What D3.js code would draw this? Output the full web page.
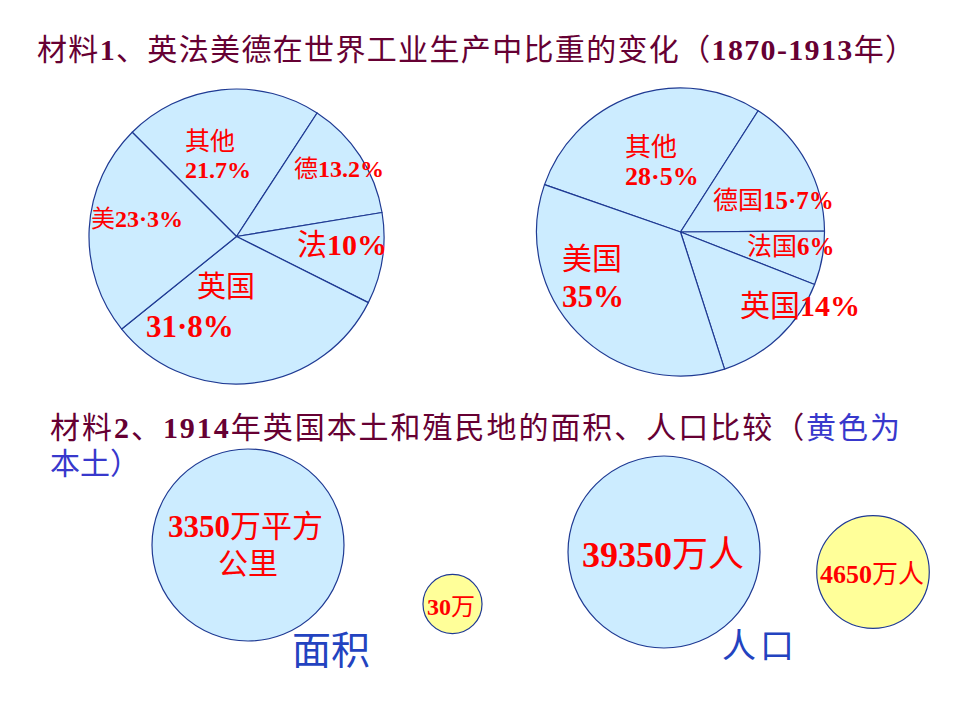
<!DOCTYPE html>
<html><head><meta charset="utf-8">
<script src="https://cdn.jsdelivr.net/npm/d3@7"></script>
<style>html,body{margin:0;padding:0;background:#fff;} svg{display:block}</style>
</head><body>
<svg id="c" width="960" height="720"></svg>
<script>
// ---------- data ----------
const title1 = "材料1、英法美德在世界工业生产中比重的变化（1870-1913年）";
const pie1870Names = ["其他", "德", "法", "英国", "美"];
const pie1870Values = [21.7, 13.2, 10, 31.8, 23.3];
const pie1870Pct = ["21.7%", "13.2%", "10%", "31·8%", "23·3%"];
const pie1913Names = ["其他", "德国", "法国", "英国", "美国"];
const pie1913Values = [28.5, 15.7, 6, 14, 35];
const pie1913Pct = ["28·5%", "15·7%", "6%", "14%", "35%"];
const title2a = "材料2、1914年英国本土和殖民地的面积、人口比较（";
const title2b = "黄色为";
const title2c = "本土）";
const panelNames = ["面积", "人口"];
const groupNames = ["殖民地", "本土"];
const areaValues = [3350, 30];
const areaText = [["3350万平方", "公里"], ["30万"]];
const popValues = [39350, 4650];
const popText = [["39350万人"], ["4650万人"]];

// ---------- styles ----------
const LAT = "'Liberation Serif','Times New Roman',serif";
const CJK = "'Noto Sans CJK SC','Noto Sans SC',sans-serif";
const RED = "#FF0000", MAROON = "#660033", BLUE = "#3838CC", NAVY = "#1F3A93";
const PIE_FILL = "#CCECFF", YELLOW = "#FFFF99";

const svg = d3.select("#c");

function addRuns(t, str, color) {
  str.match(/[0-9.%·\-]+|[^0-9.%·\-]+/g).forEach(p => {
    const num = /^[0-9.%·\-]+$/.test(p);
    t.append("tspan").text(p).attr("fill", color)
      .attr("font-family", num ? LAT : CJK)
      .attr("font-weight", num ? "bold" : "normal");
  });
  return t;
}
function label(x, y, size, str, color, anchor) {
  const t = svg.append("text").attr("x", x).attr("y", y)
    .attr("font-size", size).attr("text-anchor", anchor || "start");
  return addRuns(t, str, color);
}
function fitWidth(t, w) {
  const n = t.text().length;
  const cur = t.node().getComputedTextLength();
  t.attr("letter-spacing", (w - cur) / Math.max(1, n - 1));
}

// ---------- titles ----------
fitWidth(label(37, 60, 30, title1, MAROON), 878);
const t2 = label(50, 438, 30, title2a, MAROON);
addRuns(t2, title2b, BLUE);
fitWidth(t2, 850);
label(50, 474, 30, title2c, BLUE);

// ---------- pies ----------
function drawPie(cx, cy, r, values, startDeg) {
  const s = startDeg * Math.PI / 180;
  const arcs = d3.pie().sort(null).value(d => d)
    .startAngle(s).endAngle(s + 2 * Math.PI)(values);
  const arc = d3.arc().innerRadius(0).outerRadius(r);
  svg.append("g").attr("transform", `translate(${cx},${cy})`)
    .selectAll("path").data(arcs).join("path")
    .attr("d", arc).attr("fill", PIE_FILL)
    .attr("stroke", NAVY).attr("stroke-width", 1.2)
    .attr("stroke-linejoin", "round");
}
drawPie(236.5, 236.5, 147.5, pie1870Values, -45);
drawPie(680.5, 232, 144, pie1913Values, -70.8);

// label layout (position only)
const layout1870 = [
  { name: [185, 149.5, 25], pct: [185, 178, 24] },
  { inline: [294, 177, 24] },
  { inline: [297, 255, 30] },
  { name: [197, 297, 29], pct: [146, 337, 31] },
  { inline: [91, 227, 24] }
];
const layout1913 = [
  { name: [625, 155.7, 26], pct: [625, 185, 26] },
  { inline: [713, 209.3, 25] },
  { inline: [747, 255, 25] },
  { inline: [740, 316, 30] },
  { name: [562, 268.7, 30], pct: [562, 307.3, 31] }
];
function pieLabels(names, pcts, layout) {
  names.forEach((n, i) => {
    const L = layout[i];
    if (L.inline) label(L.inline[0], L.inline[1], L.inline[2], n + pcts[i], RED);
    else {
      label(L.name[0], L.name[1], L.name[2], n, RED);
      label(L.pct[0], L.pct[1], L.pct[2], pcts[i], RED);
    }
  });
}
pieLabels(pie1870Names, pie1870Pct, layout1870);
pieLabels(pie1913Names, pie1913Pct, layout1913);

// ---------- bubbles ----------
const rArea = d3.scalePow().exponent(0.25).domain([0, d3.max(areaValues)]).range([0, 96]);
const rPop = d3.scalePow().exponent(0.25).domain([0, d3.max(popValues)]).range([0, 96]);
const fills = [PIE_FILL, YELLOW];

const areaPos = [[248, 545], [452.5, 604]];
const areaTextLayout = [[[245.5, 537, 31], [248, 574, 30]], [[451, 615, 24]]];
const popPos = [[664, 552], [873, 572]];
const popTextLayout = [[[663, 567, 36]], [[872, 583, 26]]];

function bubbles(values, scale, pos, texts, tl) {
  svg.append("g").selectAll("circle").data(values).join("circle")
    .attr("cx", (d, i) => pos[i][0]).attr("cy", (d, i) => pos[i][1])
    .attr("r", d => scale(d))
    .attr("fill", (d, i) => fills[i])
    .attr("stroke", NAVY).attr("stroke-width", 1.2);
  texts.forEach((lines, i) => lines.forEach((s, j) => {
    const p = tl[i][j];
    label(p[0], p[1], p[2], s, RED, "middle");
  }));
}
bubbles(areaValues, rArea, areaPos, areaText, areaTextLayout);
bubbles(popValues, rPop, popPos, popText, popTextLayout);

label(292, 664, 39, panelNames[0], "#2343C0");
label(722, 658, 34, panelNames[1], "#2343C0").attr("letter-spacing", 4);
</script>
</body></html>
